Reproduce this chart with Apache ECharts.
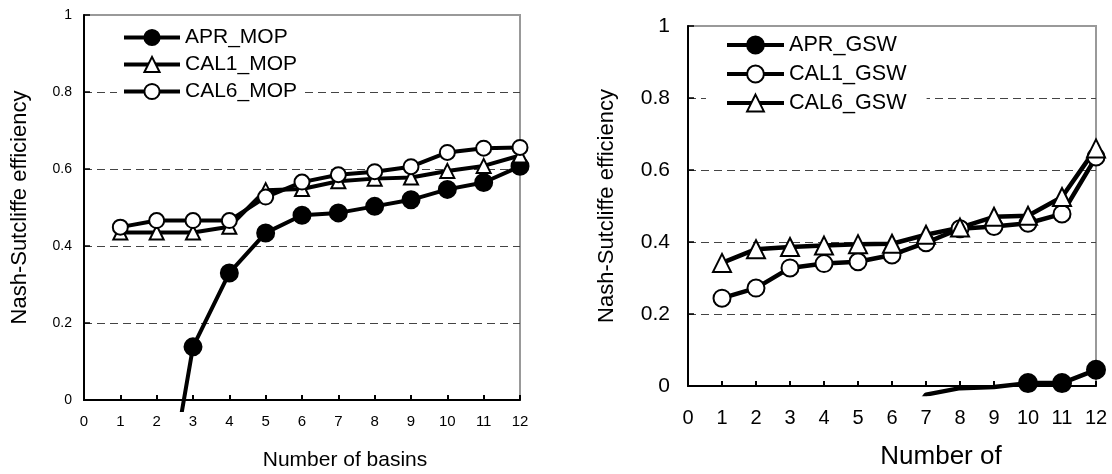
<!DOCTYPE html>
<html>
<head>
<meta charset="utf-8">
<script src="https://cdn.jsdelivr.net/npm/echarts@6/dist/echarts.min.js"></script>
<style>
  html, body { margin: 0; background: #fff; }
  #chart { width: 1112px; height: 474px; }
</style>
</head>
<body>
<div id="chart"></div>
<script>
// number of basins
var basins = [1, 2, 3, 4, 5, 6, 7, 8, 9, 10, 11, 12];

// left panel (MOP)
var aprMop  = [-1.0, -0.41, 0.138, 0.33, 0.434, 0.48, 0.486, 0.503, 0.52, 0.547, 0.565, 0.607];
var cal1Mop = [0.435, 0.435, 0.435, 0.45, 0.545, 0.548, 0.568, 0.575, 0.578, 0.595, 0.608, 0.635];
var cal6Mop = [0.449, 0.466, 0.466, 0.466, 0.527, 0.566, 0.585, 0.593, 0.606, 0.643, 0.654, 0.656];

// right panel (GSW)
var aprGsw  = [-2.0, -1.5, -1.0, -0.6, -0.3, -0.15, -0.024, -0.006, -0.003, 0.008, 0.008, 0.045];
var cal1Gsw = [0.244, 0.272, 0.328, 0.34, 0.345, 0.364, 0.398, 0.437, 0.443, 0.452, 0.478, 0.636];
var cal6Gsw = [0.342, 0.38, 0.386, 0.39, 0.394, 0.395, 0.42, 0.44, 0.47, 0.473, 0.525, 0.66];

var FONT = 'Liberation Sans, Arial, sans-serif';

// points below 0 get no marker (the plot hides them), line is clipped
function pts(ys, symbol) {
  return basins.map(function (x, i) {
    return { value: [x, ys[i]], symbol: ys[i] < 0 ? 'none' : symbol };
  });
}

function line(name, ys, symbol, fill, size, width, idx) {
  return {
    name: name,
    type: 'line',
    xAxisIndex: idx,
    yAxisIndex: idx,
    data: pts(ys, symbol),
    symbol: symbol,
    symbolSize: size,
    clip: true,
    lineStyle: { color: '#000', width: width },
    itemStyle: { color: fill, borderColor: '#000', borderWidth: 2, opacity: 1 },
    emphasis: { disabled: true },
    z: 3
  };
}

function shownX(idx, fs, margin, gap, shift) {
  return {
    type: 'value', gridIndex: idx, min: 0, max: 12, interval: 1,
    name: idx === 0 ? 'Number of basins' : 'Number of',
    nameLocation: 'middle', nameGap: gap,
    nameTextStyle: { fontFamily: FONT, fontSize: fs + 6, color: '#000', padding: [0, 0, 0, shift] },
    axisLine: { lineStyle: { color: '#000', width: 2 } },
    axisTick: { inside: true, length: 5, lineStyle: { color: '#000', width: 2 } },
    axisLabel: { fontFamily: FONT, fontSize: fs, color: '#000', margin: margin },
    splitLine: { show: false }
  };
}

function shownY(idx, fs, margin, gap) {
  return {
    type: 'value', gridIndex: idx, min: 0, max: 1, interval: 0.2,
    name: 'Nash-Sutcliffe efficiency',
    nameLocation: 'middle', nameGap: gap, nameRotate: 90,
    nameTextStyle: { fontFamily: FONT, fontSize: 22, color: '#000' },
    axisLine: { show: true, lineStyle: { color: '#000', width: 2 } },
    axisTick: { show: true, inside: true, length: 6, lineStyle: { color: '#000', width: 1.5 } },
    axisLabel: { fontFamily: FONT, fontSize: fs, color: '#000', margin: margin },
    splitLine: {
      show: true, showMinLine: false, showMaxLine: false,
      lineStyle: { color: '#444', width: 1, type: [8, 5] }
    }
  };
}

function hiddenX(idx) {
  return { type: 'value', gridIndex: idx, min: 0, max: 12, show: false };
}
function hiddenY(idx, min) {
  return { type: 'value', gridIndex: idx, min: min, max: 1, show: false, splitLine: { show: false } };
}

function legend(names, left, top, itemW, itemH, fs, gap, pad) {
  return {
    data: names, orient: 'vertical', left: left, top: top,
    itemWidth: itemW, itemHeight: itemH, itemGap: gap,
    backgroundColor: '#fff', padding: pad,
    selectedMode: false,
    textStyle: { fontFamily: FONT, fontSize: fs, color: '#000' },
    lineStyle: { color: '#000', width: 4 },
    itemStyle: { borderColor: '#000', borderWidth: 2 }
  };
}

var chart = echarts.init(document.getElementById('chart'), null, { renderer: 'canvas' });

chart.setOption({
  animation: false,
  backgroundColor: '#fff',
  grid: [
    { left: 84, top: 15, width: 436, height: 385, show: true, borderColor: '#999', borderWidth: 2, backgroundColor: 'transparent', outerBoundsMode: 'none' },
    { left: 84, top: 15, width: 436, height: 395, show: false, outerBoundsMode: 'none' },
    { left: 688, top: 26, width: 408, height: 360, show: true, borderColor: '#999', borderWidth: 2, backgroundColor: 'transparent', outerBoundsMode: 'none' },
    { left: 688, top: 26, width: 408, height: 368, show: false, outerBoundsMode: 'none' }
  ],
  xAxis: [
    shownX(0, 15, 14, 50, 86),
    hiddenX(1),
    shownX(2, 20, 22, 58, 98),
    hiddenX(3)
  ],
  yAxis: [
    shownY(0, 14, 12, 53),
    hiddenY(1, -10 / 385),
    shownY(2, 21, 18, 70),
    hiddenY(3, -8 / 360)
  ],
  legend: [
    legend(['APR_MOP', 'CAL1_MOP', 'CAL6_MOP'], 117, 24, 56, 19, 21, 6, [3, 5, 3, 5]),
    legend(['APR_GSW', 'CAL1_GSW', 'CAL6_GSW'], 706, 30, 57, 21, 21.6, 7, [4, 20, 4, 19])
  ],
  series: [
    line('APR_MOP', aprMop, 'circle', '#000', 17, 4, 1),
    line('CAL1_MOP', cal1Mop, 'triangle', '#fff', 14, 4, 1),
    line('CAL6_MOP', cal6Mop, 'circle', '#fff', 15, 4, 1),
    line('APR_GSW', aprGsw, 'circle', '#000', 18, 4.5, 3),
    line('CAL1_GSW', cal1Gsw, 'circle', '#fff', 17, 4.5, 3),
    line('CAL6_GSW', cal6Gsw, 'triangle', '#fff', 18, 4.5, 3)
  ]
});
</script>
</body>
</html>
